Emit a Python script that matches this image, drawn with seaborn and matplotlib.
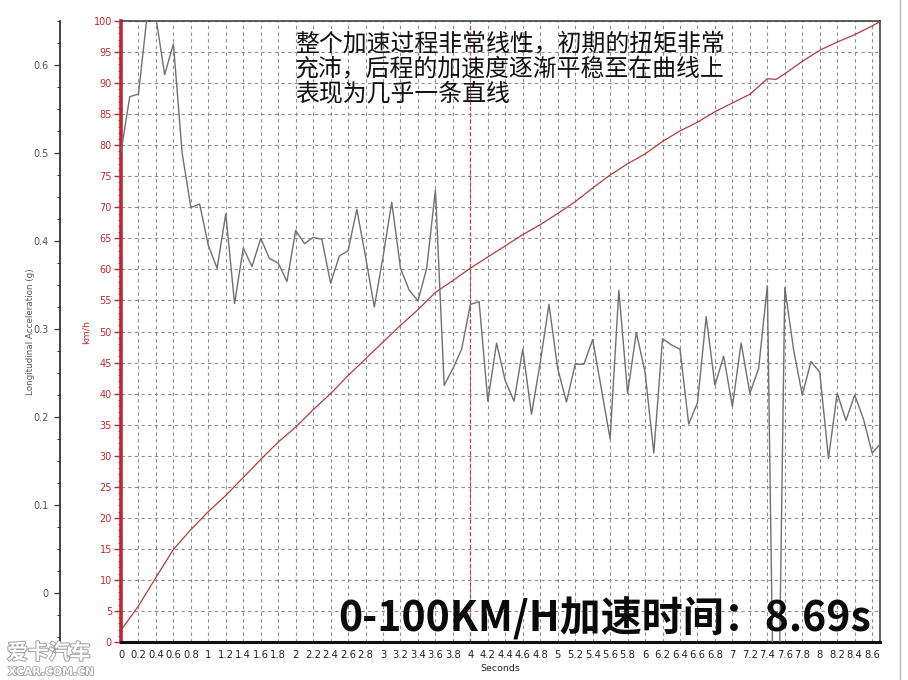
import matplotlib
matplotlib.use("Agg")
import matplotlib.pyplot as plt
import matplotlib.patheffects as pe
from matplotlib.lines import Line2D
from matplotlib.ticker import MultipleLocator, FixedLocator, FixedFormatter
import pandas as pd
import seaborn as sns

# ---------------- data ----------------
acc_time = [0.0, 0.1, 0.2, 0.3, 0.4, 0.5, 0.6, 0.7, 0.8, 0.9,
            1.0, 1.1, 1.2, 1.3, 1.4, 1.5, 1.6, 1.7, 1.8, 1.9,
            2.0, 2.1, 2.2, 2.3, 2.4, 2.5, 2.6, 2.7, 2.8, 2.9,
            3.0, 3.1, 3.2, 3.3, 3.4, 3.5, 3.6, 3.7, 3.8, 3.9,
            4.0, 4.1, 4.2, 4.3, 4.4, 4.5, 4.6, 4.7, 4.8, 4.9,
            5.0, 5.1, 5.2, 5.3, 5.4, 5.5, 5.6, 5.7, 5.8, 5.9,
            6.0, 6.1, 6.2, 6.3, 6.4, 6.5, 6.6, 6.7, 6.8, 6.9,
            7.0, 7.1, 7.2, 7.3, 7.4, 7.5, 7.6, 7.7, 7.8, 7.9,
            8.0, 8.1, 8.2, 8.3, 8.4, 8.5, 8.6, 8.7]
acc_g = [0.501, 0.564, 0.567, 0.657, 0.654, 0.589, 0.624, 0.500, 0.438, 0.442,
         0.395, 0.369, 0.431, 0.329, 0.392, 0.371, 0.403, 0.380, 0.375, 0.354,
         0.412, 0.397, 0.404, 0.402, 0.352, 0.383, 0.389, 0.436, 0.382, 0.325,
         0.382, 0.444, 0.369, 0.344, 0.332, 0.369, 0.458, 0.236, 0.255, 0.277,
         0.328, 0.331, 0.218, 0.284, 0.241, 0.218, 0.277, 0.203, 0.262, 0.328,
         0.255, 0.217, 0.260, 0.260, 0.288, 0.232, 0.175, 0.344, 0.227, 0.296,
         0.251, 0.159, 0.289, 0.282, 0.277, 0.192, 0.216, 0.314, 0.236, 0.269,
         0.212, 0.284, 0.227, 0.255, 0.349, -0.350, 0.347, 0.277, 0.225, 0.263,
         0.251, 0.153, 0.227, 0.196, 0.225, 0.198, 0.159, 0.170]

speed_time = [0.0, 0.2, 0.4, 0.6, 0.8, 1.0, 1.2, 1.4, 1.6, 1.8,
              2.0, 2.2, 2.4, 2.6, 2.8, 3.0, 3.2, 3.4, 3.6, 3.8,
              4.0, 4.2, 4.4, 4.6, 4.8, 5.0, 5.2, 5.4, 5.6, 5.8,
              6.0, 6.2, 6.4, 6.6, 6.8, 7.0, 7.2, 7.4, 7.5, 7.6,
              7.8, 8.0, 8.2, 8.4, 8.6, 8.7]
speed_kmh = [1.9, 5.8, 10.4, 14.9, 18.1, 21.0, 23.6, 26.5, 29.4, 32.2,
             34.6, 37.4, 40.0, 42.9, 45.6, 48.3, 51.0, 53.5, 56.3, 58.2,
             60.2, 62.0, 63.8, 65.6, 67.2, 69.0, 70.9, 73.1, 75.2, 77.0,
             78.6, 80.6, 82.3, 83.7, 85.4, 86.8, 88.2, 90.7, 90.6, 91.5,
             93.5, 95.3, 96.6, 97.8, 99.2, 100.0]

x_ticks = [0, 0.2, 0.4, 0.6, 0.8, 1, 1.2, 1.4, 1.6, 1.8, 2, 2.2, 2.4, 2.6, 2.8,
           3, 3.2, 3.4, 3.6, 3.8, 4, 4.2, 4.4, 4.6, 4.8, 5, 5.2, 5.4, 5.6, 5.8,
           6, 6.2, 6.4, 6.6, 6.8, 7, 7.2, 7.4, 7.6, 7.8, 8, 8.2, 8.4, 8.6]
x_tick_labels = ["0", "0.2", "0.4", "0.6", "0.8", "1", "1.2", "1.4", "1.6", "1.8",
                 "2", "2.2", "2.4", "2.6", "2.8", "3", "3.2", "3.4", "3.6", "3.8",
                 "4", "4.2", "4.4", "4.6", "4.8", "5", "5.2", "5.4", "5.6", "5.8",
                 "6", "6.2", "6.4", "6.6", "6.8", "7", "7.2", "7.4", "7.6", "7.8",
                 "8", "8.2", "8.4", "8.6"]
speed_ticks = [0, 5, 10, 15, 20, 25, 30, 35, 40, 45, 50,
               55, 60, 65, 70, 75, 80, 85, 90, 95, 100]
acc_ticks = [0, 0.1, 0.2, 0.3, 0.4, 0.5, 0.6]
acc_tick_labels = ["0", "0.1", "0.2", "0.3", "0.4", "0.5", "0.6"]

note_text = "整个加速过程非常线性，初期的扭矩非常\n充沛，后程的加速度逐渐平稳至在曲线上\n表现为几乎一条直线"
big_text = "0-100KM/H加速时间：8.69s"

# ---------------- style ----------------
sns.set_style("white")
plt.rcParams["font.family"] = ["DejaVu Sans", "Noto Sans CJK SC"]
RED = "#c0282d"
CJK = ["Noto Sans CJK SC", "DejaVu Sans"]

W, H = 908, 680
fig = plt.figure(figsize=(W / 100, H / 100), dpi=100)
fig.patch.set_facecolor("white")
L, R, T, B = 121, 880, 21, 642
ax = fig.add_axes([L / W, 1 - B / H, (R - L) / W, (B - T) / H])
ax2 = ax.twinx()

df_speed = pd.DataFrame({"t": speed_time, "v": speed_kmh})
df_acc = pd.DataFrame({"t": acc_time, "g": acc_g})

sns.lineplot(data=df_speed, x="t", y="v", ax=ax, color="#b63a3c", lw=0.9, zorder=3)
sns.lineplot(data=df_acc, x="t", y="g", ax=ax2, color="#707070", lw=1.0)

ax.set_xlim(0, 8.69)
ax.set_ylim(0, 100)
ax2.set_ylim(-0.0557, 0.65)

# grid
ax.set_axisbelow(True)
ax.grid(True, which="major", axis="both", linestyle=(0, (3, 3)),
        color="#8c8c8c", lw=0.8)
ax2.grid(False)
ax.axvline(4, color="#b5484b", ls=(0, (3, 2)), lw=0.9, zorder=2)

# x axis
ax.xaxis.set_major_locator(FixedLocator(x_ticks))
ax.xaxis.set_major_formatter(FixedFormatter(x_tick_labels))
ax.xaxis.set_minor_locator(MultipleLocator(0.05))
ax.tick_params(axis="x", which="major", direction="in", length=4, width=0.8,
               color="#222", labelsize=7.2, labelcolor="#222", pad=6)
ax.tick_params(axis="x", which="minor", direction="in", length=2, width=0.6,
               color="#222")
ax.set_xlabel("Seconds", fontsize=6.8, color="#222")
ax.xaxis.set_label_coords(0.5, -(664 - B) / (B - T))

# km/h axis
ax.yaxis.set_major_locator(FixedLocator(speed_ticks))
ax.yaxis.set_minor_locator(MultipleLocator(1))
ax.tick_params(axis="y", which="major", direction="out", length=5, width=1,
               color=RED, labelcolor=RED, labelsize=7, pad=1.5)
ax.tick_params(axis="y", which="minor", direction="out", length=2, width=0.7,
               color=RED)
ax.set_ylabel("km/h", fontsize=6.8, color=RED)
ax.yaxis.set_label_coords(-(L - 91) / (R - L), 0.5)

# spines of main axes
ax.spines["left"].set_color(RED)
ax.spines["left"].set_linewidth(2.6)
ax.spines["bottom"].set_color("#111")
ax.spines["bottom"].set_linewidth(2.2)
for s in ("top", "right"):
    ax.spines[s].set_color("#444")
    ax.spines[s].set_linewidth(1.2)
    ax.spines[s].set_visible(True)

# acceleration axis, moved to the left
ax2.yaxis.tick_left()
ax2.yaxis.set_label_position("left")
ax2.spines["left"].set_visible(True)
ax2.spines["left"].set_position(("axes", -(L - 60) / (R - L)))
ax2.spines["left"].set_color("#333")
ax2.spines["left"].set_linewidth(1.3)
for s in ("right", "top", "bottom"):
    ax2.spines[s].set_visible(False)
ax2.yaxis.set_major_locator(FixedLocator(acc_ticks))
ax2.yaxis.set_major_formatter(FixedFormatter(acc_tick_labels))
ax2.yaxis.set_minor_locator(MultipleLocator(0.025))
ax2.tick_params(axis="y", which="major", direction="out", length=4, width=0.9,
                color="#333", labelcolor="#555", labelsize=7, pad=4)
ax2.tick_params(axis="y", which="minor", direction="out", length=2.5, width=0.7,
                color="#333")
ax2.set_ylabel("Longitudinal Acceleration (g)", fontsize=6.3, color="#555")
ax2.yaxis.set_label_coords(-(L - 35) / (R - L), 0.5)

# texts
fig.text(295 / W, 1 - 33 / H, note_text, fontsize=17.2, va="top", ha="left",
         family=CJK, linespacing=1.08, color="#111")
fig.text(871 / W, 1 - 631 / H, big_text, fontsize=29.5, fontweight="bold",
         family=CJK, ha="right", va="baseline", color="#0a0a0a")

# watermark
fig.text(7 / W, 1 - 659 / H, "爱卡汽车", fontsize=15, color="white", family=CJK,
         ha="left", va="baseline", fontweight="bold",
         path_effects=[pe.withStroke(linewidth=1.4, foreground="#a0a0a0")])
fig.text(8 / W, 1 - 675 / H, "XCAR.COM.CN", fontsize=7.8, color="white",
         family=["DejaVu Sans"], ha="left", va="baseline", fontweight="bold",
         path_effects=[pe.withStroke(linewidth=1.2, foreground="#a0a0a0")])

# image border on the right
fig.add_artist(Line2D([900 / W, 900 / W], [0, 1], transform=fig.transFigure,
                      color="#b8b8b8", lw=1))

fig.savefig("out.png", dpi=100)
